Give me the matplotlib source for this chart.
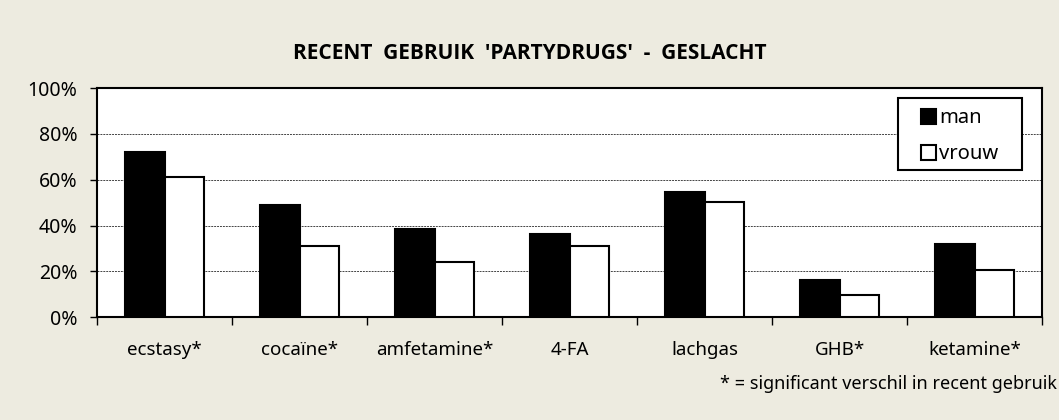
import matplotlib
matplotlib.use("Agg")
import matplotlib.pyplot as plt
import numpy as np
from matplotlib.ticker import FixedLocator, PercentFormatter
from matplotlib.patches import Rectangle

categories = ["ecstasy*", "cocaïne*", "amfetamine*", "4-FA", "lachgas", "GHB*", "ketamine*"]
man = [72, 49, 38.5, 36.5, 54.5, 16.3, 32]
vrouw = [61.3, 31, 24, 31, 50.4, 9.6, 20.5]
yticks = [0, 20, 40, 60, 80, 100]

plt.rcParams['font.family'] = ['Noto Sans', 'DejaVu Sans']
bg = '#EDEBE0'

fig = plt.figure(figsize=(10.59, 4.2), dpi=100, facecolor=bg)
ax = fig.add_axes([0.0916, 0.245, 0.8924, 0.545])
ax.set_facecolor('white')

x = np.arange(len(categories))
w = 0.29
ax.bar(x - w/2, man, width=w, color='black', edgecolor='black', linewidth=1.5, label='man', zorder=3)
ax.bar(x + w/2, vrouw, width=w, color='white', edgecolor='black', linewidth=1.5, label='vrouw', zorder=3)

ax.set_xlim(-0.5, len(categories) - 0.5)
ax.set_ylim(0, 100)
ax.set_yticks(yticks)
ax.yaxis.set_major_formatter(PercentFormatter(decimals=0))
ax.set_xticks(x)
ax.set_xticklabels(categories)
ax.xaxis.set_minor_locator(FixedLocator(np.arange(-0.5, len(categories), 1.0)))
ax.tick_params(axis='x', which='major', length=0, pad=17, labelsize=13.5)
ax.tick_params(axis='x', which='minor', length=6, width=1, direction='out')
ax.tick_params(axis='y', length=5, width=1, direction='out', labelsize=14, pad=9)

for y in yticks[1:-1]:
    ax.axhline(y, color='#444444', linestyle=(0, (2, 1)), linewidth=0.7, zorder=1)

for s in ax.spines.values():
    s.set_linewidth(1.5)
    s.set_color('black')

# legend frame drawn separately for Excel-like padding
ax.add_patch(Rectangle((0.8476, 0.642), 0.1312, 0.314, transform=ax.transAxes,
                       facecolor='white', edgecolor='black', linewidth=1.5, zorder=4))
leg = ax.legend(loc='center left', bbox_to_anchor=(0.872, 0.79), frameon=False,
                fontsize=14.5, handlelength=0.75, handleheight=0.75,
                handletextpad=0.15, labelspacing=0.8, borderpad=0.0, borderaxespad=0.0)
leg.set_zorder(5)

fig.text(0.5, 0.873, "RECENT  GEBRUIK  'PARTYDRUGS'  -  GESLACHT", ha='center', va='center',
         fontsize=15, fontweight='bold', family='Open Sans')
fig.text(0.998, 0.086, "* = significant verschil in recent gebruik", ha='right', va='center', fontsize=13)

fig.savefig("out.png", dpi=100, facecolor=bg)
